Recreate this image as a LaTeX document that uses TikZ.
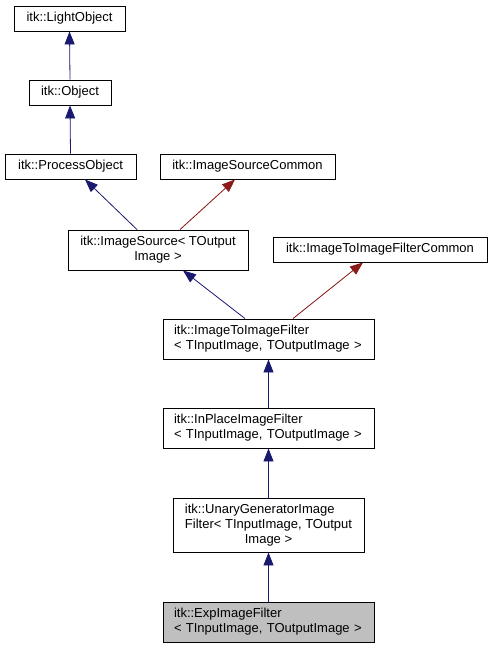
\documentclass[tikz,border=0pt]{standalone}
\usepackage{fontspec}
\setmainfont{Liberation Sans}
\usetikzlibrary{arrows.meta}
\definecolor{edgeblue}{HTML}{191970}
\definecolor{edgered}{HTML}{8B1A1A}
\definecolor{nodegray}{HTML}{BFBFBF}
\tikzset{
  cls/.style={draw=black, line width=0.9pt, fill=white, inner sep=0pt, font=\fontsize{13}{15}\selectfont},
  pub/.style={draw=edgeblue, line width=0.8pt, -{Triangle[length=13pt,width=10pt]}},
  prot/.style={draw=edgered, line width=0.8pt, -{Triangle[length=13pt,width=10pt]}, fill=edgered},
}
\begin{document}
\begin{tikzpicture}[x=1pt,y=-1pt]
\useasboundingbox (0,0) rectangle (492,648);
\node[cls, minimum width=111pt, minimum height=25pt] (lo) at (69.5,18.5) {itk::LightObject};
\node[cls, minimum width=82pt, minimum height=25pt] (ob) at (70,92.5) {itk::Object};
\node[cls, minimum width=131pt, minimum height=25pt] (po) at (70.5,166.5) {itk::ProcessObject};
\node[cls, minimum width=175pt, minimum height=25pt] (isc) at (247.5,166.5) {itk::ImageSourceCommon};
\node[cls, minimum width=180pt, minimum height=40pt, align=center] (is) at (158,250) {itk::ImageSource\textless{} TOutput\\Image \textgreater{}};
\node[cls, minimum width=214pt, minimum height=25pt] (itic) at (380,249.5) {itk::ImageToImageFilterCommon};
\node[cls, minimum width=211pt, minimum height=40pt, text width=189pt, align=left] (itif) at (268.5,339) {itk::ImageToImageFilter\\\textless{} TInputImage, TOutputImage \textgreater{}};
\node[cls, minimum width=211pt, minimum height=40pt, text width=189pt, align=left] (ipif) at (268.5,428) {itk::InPlaceImageFilter\\\textless{} TInputImage, TOutputImage \textgreater{}};
\node[cls, minimum width=191pt, minimum height=54pt] (ug) at (268.5,525) {\begin{tabular}{@{}l@{}}itk::UnaryGeneratorImage\\Filter\textless{} TInputImage, TOutput\\\multicolumn{1}{@{}c@{}}{Image \textgreater{}}\end{tabular}};
\node[cls, fill=nodegray, minimum width=211pt, minimum height=40pt, text width=189pt, align=left] (ex) at (268.5,622) {itk::ExpImageFilter\\\textless{} TInputImage, TOutputImage \textgreater{}};

\draw[pub] (ob.north) -- (lo.south);
\draw[pub] (po.north) -- (ob.south);
\draw[pub] ([xshift=-21pt]is.north) -- ([xshift=14.5pt]po.south);
\draw[prot] ([xshift=22pt]is.north) -- ([xshift=-12.5pt]isc.south);
\draw[pub] ([xshift=-23.5pt]itif.north) -- ([xshift=25pt]is.south);
\draw[prot] ([xshift=24.5pt]itif.north) -- ([xshift=-17pt]itic.south);
\draw[pub] (ipif.north) -- (itif.south);
\draw[pub] (ug.north) -- (ipif.south);
\draw[pub] (ex.north) -- (ug.south);
\end{tikzpicture}
\end{document}
